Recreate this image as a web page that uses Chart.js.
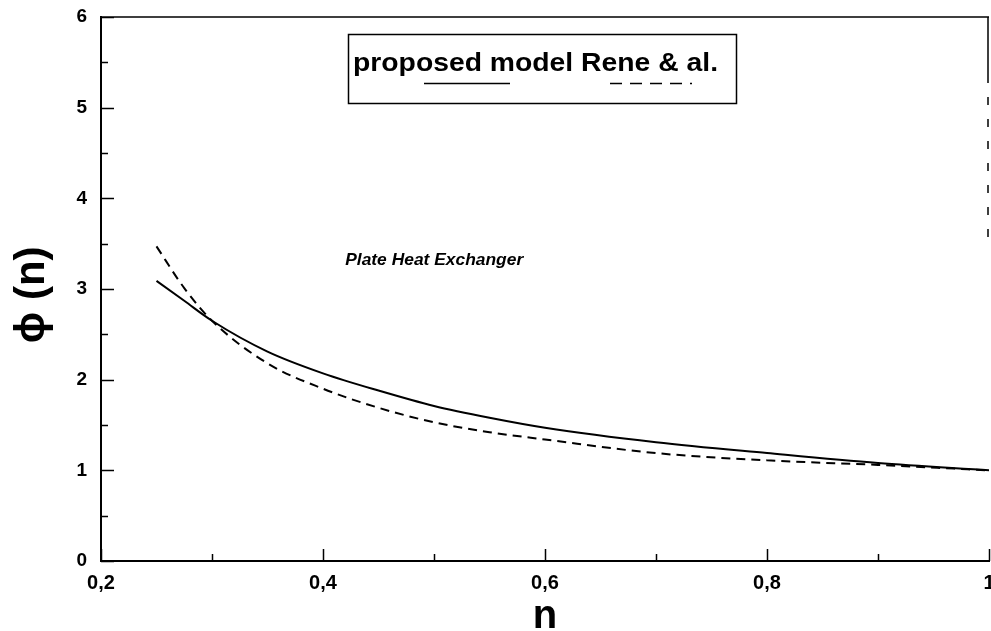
<!DOCTYPE html>
<html>
<head>
<meta charset="utf-8">
<script src="https://cdn.jsdelivr.net/npm/chart.js@4.4.1/dist/chart.umd.min.js"></script>
<style>
    html, body { margin: 0; padding: 0; background: #fff; overflow: hidden; }
    canvas { display: block; }
</style>
</head>
<body>
<canvas id="phiChart" width="991" height="631"></canvas>
<script>

// values
const nValues =      [0.25, 0.275, 0.3,  0.35, 0.4,  0.45, 0.5,  0.55, 0.6,  0.7,  0.8,  0.9,  1.0];
const proposedModel = [3.09, 2.87,  2.65, 2.31, 2.07, 1.88, 1.71, 1.58, 1.47, 1.31, 1.19, 1.08, 1.00];
const reneEtAl =      [3.47, 3.01,  2.65, 2.18, 1.90, 1.69, 1.53, 1.42, 1.34, 1.19, 1.11, 1.06, 1.00];

const xTickLabels = ["0,2", "0,4", "0,6", "0,8", "1"];
const yTickLabels = ["0", "1", "2", "3", "4", "5", "6"];
const legendLabels = ["proposed model", "Rene & al."];
const noteText = "Plate Heat Exchanger";

const FONT = "'Liberation Sans', Arial, sans-serif";

Chart.defaults.font.family = FONT;
Chart.defaults.color = "#000";

function toPoints(values) {
    return nValues.map((n, i) => ({ x: n, y: values[i] }));
}

// text stretched to a given width (the original lettering is wide)
function wideText(ctx, text, x, y, width) {
    const w = ctx.measureText(text).width;
    ctx.save();
    ctx.translate(x, y);
    ctx.scale(width / w, 1);
    ctx.fillText(text, 0, 0);
    ctx.restore();
}

// inward tick marks plus the top / right frame
const frameTicks = {

    id: "frameTicks",

    afterDatasetsDraw(chart) {

        const { ctx, chartArea: a, scales: { x, y } } = chart;

        ctx.save();
        ctx.strokeStyle = "#000";
        ctx.lineWidth = 1.5;

        ctx.beginPath();

        for (let k = 0; k <= 12; k++) {
            const py = Math.round(y.getPixelForValue(k / 2)) + 0.5;
            const len = k % 2 === 0 ? 13 : 7;
            ctx.moveTo(a.left, py);
            ctx.lineTo(a.left + len, py);
        }

        for (let k = 2; k <= 10; k++) {
            const px = Math.round(x.getPixelForValue(k / 10)) + 0.5;
            const len = k % 2 === 0 ? 12 : 7;
            ctx.moveTo(px, a.bottom);
            ctx.lineTo(px, a.bottom - len);
        }

        // top border
        ctx.moveTo(a.left, a.top);
        ctx.lineTo(a.right, a.top);

        // right border, solid at the top
        ctx.moveTo(a.right - 1, a.top);
        ctx.lineTo(a.right - 1, a.top + 58);
        ctx.stroke();

        // ...then broken
        ctx.setLineDash([8, 14]);
        ctx.beginPath();
        ctx.moveTo(a.right - 1, a.top + 58);
        ctx.lineTo(a.right - 1, a.top + 225);
        ctx.stroke();

        ctx.restore();

    }

};

// boxed legend and the "Plate Heat Exchanger" note
const legendBox = {

    id: "legendBox",

    afterDraw(chart) {

        const { ctx, scales: { x, y } } = chart;

        ctx.save();

        ctx.strokeStyle = "#000";
        ctx.lineWidth = 1.5;
        ctx.strokeRect(348.5, 34.5, 388, 69);

        ctx.fillStyle = "#000";
        ctx.textBaseline = "alphabetic";
        ctx.textAlign = "left";
        ctx.font = "bold 25px " + FONT;
        wideText(ctx, legendLabels[0] + " " + legendLabels[1], 353, 71, 365);

        ctx.lineWidth = 1.5;
        ctx.beginPath();
        ctx.moveTo(424, 83.5);
        ctx.lineTo(510, 83.5);
        ctx.stroke();

        ctx.setLineDash([12, 8]);
        ctx.beginPath();
        ctx.moveTo(610, 83.5);
        ctx.lineTo(692, 83.5);
        ctx.stroke();
        ctx.setLineDash([]);

        ctx.font = "italic bold 17px " + FONT;
        wideText(ctx, noteText, x.getPixelForValue(0.42), y.getPixelForValue(3.26), 178);

        ctx.restore();

    }

};

new Chart(document.getElementById("phiChart"), {

    type: "line",

    data: {

        datasets: [

            {
                label: legendLabels[0],
                data: toPoints(proposedModel),
                borderColor: "#000",
                borderWidth: 2,
                pointRadius: 0,
                cubicInterpolationMode: "monotone"
            },

            {
                label: legendLabels[1],
                data: toPoints(reneEtAl),
                borderColor: "#000",
                borderWidth: 2,
                borderDash: [9, 6],
                pointRadius: 0,
                cubicInterpolationMode: "monotone"
            }

        ]

    },

    options: {

        responsive: false,
        animation: false,

        layout: {
            padding: { top: 17, right: 2, bottom: 0, left: 0 }
        },

        plugins: {
            legend: { display: false },
            tooltip: { enabled: false }
        },

        scales: {

            x: {
                type: "linear",
                min: 0.2,
                max: 1,
                grid: { display: false },
                border: { display: true, color: "#000", width: 2 },
                ticks: {
                    stepSize: 0.2,
                    padding: 2,
                    maxRotation: 0,
                    font: { size: 20, weight: "bold" },
                    callback: (value, index) => xTickLabels[index]
                },
                title: {
                    display: true,
                    text: "n",
                    font: { size: 40, weight: "bold", lineHeight: 0.6 },
                    padding: { top: 0, bottom: 2 }
                },
                afterFit(scale) {
                    scale.height = 70;
                    scale.paddingLeft = 0;
                    scale.paddingRight = 0;
                }
            },

            y: {
                min: 0,
                max: 6,
                grid: { display: false },
                border: { display: true, color: "#000", width: 2 },
                ticks: {
                    stepSize: 1,
                    padding: 6,
                    font: { size: 19, weight: "bold" },
                    callback: (value, index) => yTickLabels[index]
                },
                title: {
                    display: true,
                    text: "ϕ (n) ",
                    font: { size: 42, weight: "bold", lineHeight: 0.6 },
                    padding: { top: 20, bottom: 0 }
                },
                afterFit(scale) {
                    scale.width = 101;
                    scale.paddingTop = 0;
                    scale.paddingBottom = 0;
                }
            }

        }

    },

    plugins: [frameTicks, legendBox]

});

</script>
</body>
</html>
